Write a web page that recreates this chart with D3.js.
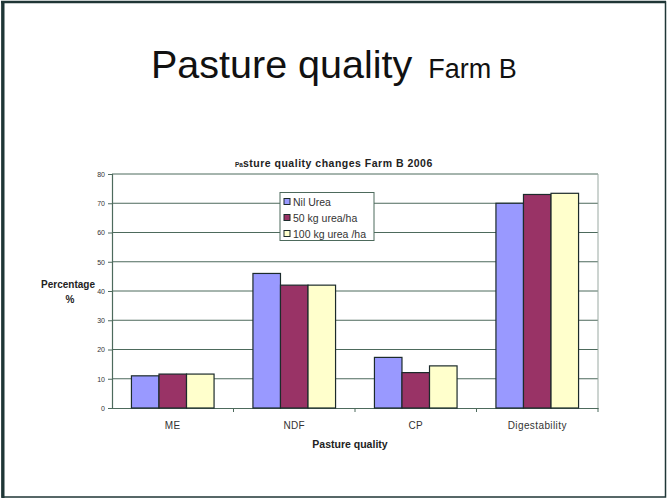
<!DOCTYPE html>
<html>
<head>
<meta charset="utf-8">
<script src="https://cdn.jsdelivr.net/npm/d3@7"></script>
<style>
  html, body { margin: 0; padding: 0; background: #fff; }
  svg { display: block; }
</style>
</head>
<body>
<svg id="chart" width="667" height="499"></svg>
<script>
// Pasture quality measures for Farm B, 2006
const categories = ["ME", "NDF", "CP", "Digestability"];
const seriesNames = ["Nil Urea", "50 kg urea/ha", "100 kg urea /ha"];
const nilUrea   = [11.0, 46.0, 17.3, 70.0];
const urea50    = [11.6, 42.0, 12.1, 73.0];
const urea100   = [11.6, 42.0, 14.4, 73.4];
const yTicks    = [0, 10, 20, 30, 40, 50, 60, 70, 80];
const colors    = ["#9999ff", "#993366", "#ffffcc"];

const series = [nilUrea, urea50, urea100];

const svg = d3.select("#chart");
const font = "Arial, 'Liberation Sans', sans-serif";

// slide frame
svg.append("rect")
  .attr("x", 2).attr("y", 2).attr("width", 663.5).attr("height", 495)
  .attr("fill", "#fff").attr("stroke", "#1f3636").attr("stroke-width", 1.5);
svg.append("line").attr("x1", 3).attr("x2", 3).attr("y1", 1).attr("y2", 498)
  .attr("stroke", "#1f3636").attr("stroke-width", 3);
svg.append("line").attr("x1", 1).attr("x2", 666).attr("y1", 2).attr("y2", 2)
  .attr("stroke", "#1f3636").attr("stroke-width", 2.5);

// slide heading
const heading = svg.append("text")
  .attr("x", 151).attr("y", 78)
  .attr("font-family", font).attr("fill", "#111");
heading.append("tspan").attr("font-size", 39.5).text("Pasture quality");
heading.append("tspan").attr("font-size", 27).attr("dx", 16).text("Farm B");

// plot geometry
const plotLeft = 112, plotRight = 598, plotTop = 174, plotBottom = 408;

const x0 = d3.scaleBand().domain(categories).range([plotLeft, plotRight]).paddingInner(0.32).paddingOuter(0.16);
const x1 = d3.scaleBand().domain(d3.range(series.length)).range([0, x0.bandwidth()]);
const y = d3.scaleLinear().domain([0, 80]).range([plotBottom, plotTop]);
const xCat = d3.scaleBand().domain(categories).range([plotLeft, plotRight]);

const gridColor = "#4d6a5c";

// horizontal gridlines
svg.append("g").selectAll("line").data(yTicks.filter(t => t > 0)).join("line")
  .attr("x1", plotLeft).attr("x2", plotRight)
  .attr("y1", d => y(d)).attr("y2", d => y(d))
  .attr("stroke", gridColor).attr("stroke-width", 1);

// right edge of plot area
svg.append("line").attr("x1", plotRight).attr("x2", plotRight).attr("y1", plotTop).attr("y2", plotBottom)
  .attr("stroke", "#9aa9a2").attr("stroke-width", 1);

// y axis
const yAxis = svg.append("g").attr("transform", `translate(${plotLeft},0)`)
  .call(d3.axisLeft(y).tickValues(yTicks).tickSize(4).tickPadding(3));
yAxis.select(".domain").attr("stroke", gridColor).attr("stroke-width", 1.2);
yAxis.selectAll(".tick line").attr("stroke", gridColor);
yAxis.selectAll(".tick text").attr("font-family", font).attr("font-size", 7).attr("fill", "#333");

// x axis
const xAxis = svg.append("g").attr("transform", `translate(0,${plotBottom})`)
  .call(d3.axisBottom(xCat).tickSize(0).tickPadding(14));
xAxis.select(".domain").attr("stroke", gridColor).attr("stroke-width", 1.2);
xAxis.selectAll(".tick text").attr("font-family", font).attr("font-size", 10)
  .attr("letter-spacing", 0.4).attr("fill", "#333");
// category separators
svg.append("g").selectAll("line").data(categories).join("line")
  .attr("x1", (d, i) => plotLeft + xCat.step() * (i + 1))
  .attr("x2", (d, i) => plotLeft + xCat.step() * (i + 1))
  .attr("y1", plotBottom).attr("y2", plotBottom + 4)
  .attr("stroke", gridColor);

// bars
const groups = svg.append("g").selectAll("g").data(categories).join("g")
  .attr("transform", d => `translate(${x0(d)},0)`);
groups.selectAll("rect")
  .data((c, ci) => series.map((s, si) => ({ si, v: s[ci] })))
  .join("rect")
  .attr("x", d => x1(d.si))
  .attr("width", x1.bandwidth())
  .attr("y", d => y(d.v))
  .attr("height", d => y(0) - y(d.v))
  .attr("fill", d => colors[d.si])
  .attr("stroke", "#1c2b2b").attr("stroke-width", 1.2);

// chart title
const ct = svg.append("text")
  .attr("x", 235).attr("y", 167)
  .attr("font-family", font).attr("font-weight", "bold").attr("font-size", 10.5)
  .attr("letter-spacing", 0.5).attr("fill", "#222");
ct.append("tspan").attr("font-size", 6.5).attr("letter-spacing", 0).text("Pa");
ct.append("tspan").text("sture quality changes Farm B 2006");

// axis titles
svg.append("text")
  .attr("x", 350).attr("y", 448).attr("text-anchor", "middle")
  .attr("font-family", font).attr("font-weight", "bold").attr("font-size", 10.5).attr("fill", "#222")
  .text("Pasture quality");
const yl = svg.append("text").attr("text-anchor", "middle")
  .attr("font-family", font).attr("font-weight", "bold").attr("font-size", 10).attr("fill", "#222");
yl.append("tspan").attr("x", 68).attr("y", 288).text("Percentage");
yl.append("tspan").attr("x", 70).attr("y", 303).text("%");

// legend
const lg = svg.append("g").attr("transform", "translate(280,192.5)");
lg.append("rect").attr("width", 94).attr("height", 48)
  .attr("fill", "#fff").attr("stroke", "#4d6a5c").attr("stroke-width", 1);
const items = lg.selectAll("g").data(seriesNames).join("g")
  .attr("transform", (d, i) => `translate(4,${6 + i * 16})`);
items.append("rect").attr("width", 6).attr("height", 6)
  .attr("fill", (d, i) => colors[i]).attr("stroke", "#1c2b2b").attr("stroke-width", 1);
items.append("text").attr("x", 9).attr("y", 7)
  .attr("font-family", font).attr("font-size", 10.5).attr("fill", "#333")
  .text(d => d);
</script>
</body>
</html>
